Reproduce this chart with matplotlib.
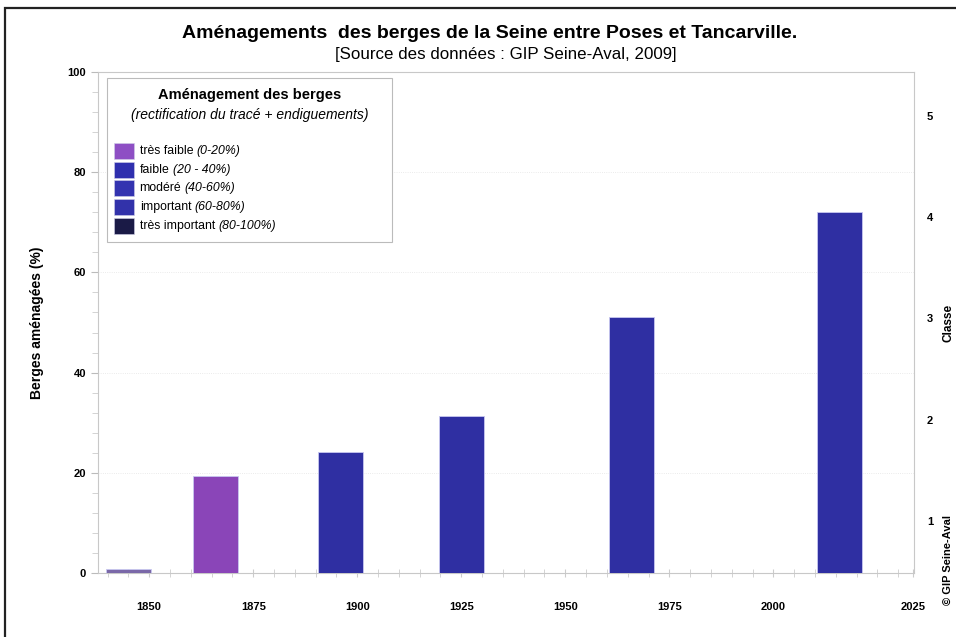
import matplotlib

matplotlib.use("Agg")
import matplotlib.pyplot as plt
from matplotlib.patches import Rectangle
from matplotlib.ticker import MultipleLocator

plt.rcParams["font.family"] = ["Liberation Sans", "DejaVu Sans"]

# data
years = [1845, 1866, 1896, 1925, 1966, 2016]
pct = [0.7, 19.4, 24.2, 31.4, 51.0, 72.0]
bar_colors = ["#7a68a8", "#8a45b8", "#2f2fa2", "#2f2fa2", "#2f2fa2", "#2f2fa2"]

classes = ["très faible", "faible", "modéré", "important", "très important"]
ranges = ["(0-20%)", "(20 - 40%)", "(40-60%)", "(60-80%)", "(80-100%)"]
class_colors = ["#8e4fc4", "#2f2fae", "#3333b0", "#3232aa", "#1a1a46"]

xtick_pos = [1850, 1875, 1900, 1925, 1950, 1975, 2000, 2033.5]
xtick_lab = ["1850", "1875", "1900", "1925", "1950", "1975", "2000", "2025"]
right_ticks = [1, 2, 3, 4, 5]

fig = plt.figure(figsize=(9.56, 6.37), dpi=100)
ax = fig.add_axes([0.1025, 0.1005, 0.854, 0.7865])

ax.bar(years, pct, width=10.8, color=bar_colors, edgecolor="#c8c8f0", lw=0.6, zorder=3)

ax.set_xlim(1837.7, 2033.9)
ax.set_ylim(0, 100)
ax.set_xticks(xtick_pos)
ax.set_xticklabels(xtick_lab, fontsize=8, fontweight="bold")
ax.xaxis.set_minor_locator(MultipleLocator(5))
ax.yaxis.set_major_locator(MultipleLocator(20))
ax.yaxis.set_minor_locator(MultipleLocator(4))
ax.tick_params(axis="y", labelsize=8, colors="#bbbbbb", labelcolor="black", length=5, direction="out")
ax.tick_params(axis="y", which="minor", colors="#cccccc", length=4)
ax.tick_params(axis="x", colors="#cccccc", labelcolor="black", length=6, pad=18, direction="inout")
ax.tick_params(axis="x", which="minor", colors="#cccccc", length=6, direction="inout")
for lab in ax.get_yticklabels():
    lab.set_fontweight("bold")
for s in ax.spines.values():
    s.set_color("#c8c8c8")
    s.set_linewidth(0.8)
ax.grid(axis="y", color="#e4e4e4", ls=":", lw=0.6, zorder=0)
ax.set_ylabel("Berges aménagées (%)", fontsize=10, fontweight="bold", labelpad=17)

ax2 = ax.twinx()
ax2.set_ylim(0.49, 5.43)
ax2.set_yticks(right_ticks)
ax2.tick_params(axis="y", labelsize=8, colors="#cccccc", labelcolor="black", length=0, pad=9)
for lab in ax2.get_yticklabels():
    lab.set_fontweight("bold")
for s in ax2.spines.values():
    s.set_visible(False)
ax2.set_ylabel("Classe", fontsize=8.5, fontweight="bold", labelpad=7)

# hand-built legend (mixed upright / italic labels)
ax2.add_patch(Rectangle((0.011, 0.661), 0.349, 0.327, transform=ax.transAxes,
                        facecolor="white", edgecolor="#bbbbbb", lw=0.8, zorder=5))
ax2.text(0.186, 0.955, "Aménagement des berges", transform=ax.transAxes, fontsize=10.5,
         fontweight="bold", ha="center", va="center", zorder=6)
ax2.text(0.186, 0.915, "(rectification du tracé + endiguements)", transform=ax.transAxes,
         fontsize=10, style="italic", ha="center", va="center", zorder=6)
ys = [0.842, 0.805, 0.768, 0.731, 0.693]
for name, rng, col, y in zip(classes, ranges, class_colors, ys):
    ax2.add_patch(Rectangle((0.02, y - 0.016), 0.024, 0.032, transform=ax.transAxes,
                            facecolor=col, edgecolor="#d0d0e8", lw=0.4, zorder=6))
    t = ax2.text(0.051, y, name, transform=ax.transAxes, fontsize=8.8,
                 ha="left", va="center", zorder=6)
    ax2.annotate(rng, xy=(1, 0.5), xycoords=t, xytext=(2.5, 0), textcoords="offset points",
                 fontsize=8.8, style="italic", ha="left", va="center", zorder=6)

fig.text(0.512, 0.947, "Aménagements  des berges de la Seine entre Poses et Tancarville.",
         ha="center", va="center", fontsize=14, fontweight="bold")
fig.text(0.529, 0.914, "[Source des données : GIP Seine-Aval, 2009]",
         ha="center", va="center", fontsize=12.2)
fig.text(0.991, 0.121, "© GIP Seine-Aval", rotation=90, ha="center", va="center",
         fontsize=8, fontweight="bold")

# outer frame
fig.add_artist(Rectangle((0.005, -0.1), 1.2, 1.087, transform=fig.transFigure,
                         fill=False, edgecolor="#222222", lw=1.6))

fig.savefig("out.png", dpi=100)
